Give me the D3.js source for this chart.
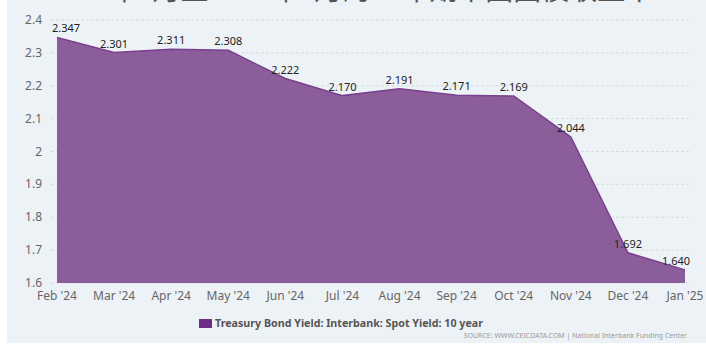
<!DOCTYPE html>
<html>
<head>
<meta charset="utf-8">
<script src="https://cdn.jsdelivr.net/npm/d3@7"></script>
<style>
  html, body { margin: 0; padding: 0; background: #ffffff; }
  svg { display: block; }
</style>
</head>
<body>
<div id="chart"></div>
<script>
    var months = ["Feb '24", "Mar '24", "Apr '24", "May '24", "Jun '24", "Jul '24", "Aug '24", "Sep '24", "Oct '24", "Nov '24", "Dec '24", "Jan '25"];
    var yields = [2.347, 2.301, 2.311, 2.308, 2.222, 2.170, 2.191, 2.171, 2.169, 2.044, 1.692, 1.640];
    var yTicks = [1.6, 1.7, 1.8, 1.9, 2.0, 2.1, 2.2, 2.3, 2.4];
    var seriesName = "Treasury Bond Yield: Interbank: Spot Yield: 10 year";
    var sourceText = "SOURCE: WWW.CEICDATA.COM | National Interbank Funding Center";
    var titleText = "2024年2月至2025年1月的10年期中国国债收益率";

    var width = 706, height = 347,
        margin = { top: 20, right: 21, bottom: 64, left: 57 },
        innerW = width - margin.left - margin.right,
        innerH = height - margin.top - margin.bottom,
        font = "'Noto Sans', 'Open Sans', sans-serif";

    var svg = d3.select("#chart").append("svg")
        .attr("width", width)
        .attr("height", height);

    // panel background
    svg.append("rect")
        .attr("x", 7).attr("y", 0)
        .attr("width", width - 7).attr("height", 343)
        .style("fill", "#edf2f7");

    // title, cut off at the top like in the source image
    svg.append("text")
        .attr("x", 350).attr("y", 0)
        .style("text-anchor", "middle")
        .style("font-family", "'Noto Sans CJK SC', sans-serif")
        .style("font-size", "28px")
        .style("fill", "#555")
        .text(titleText);

    var g = svg.append("g")
        .attr("transform", "translate(" + margin.left + "," + margin.top + ")");

    var x = d3.scalePoint().domain(months).range([0, innerW]);
    var y = d3.scaleLinear().domain([1.6, 2.4]).range([innerH, 0]);

    // grid
    g.selectAll(".grid")
        .data(yTicks)
        .enter().append("line")
        .attr("x1", -6).attr("x2", innerW + 5)
        .attr("y1", function(d) { return y(d); })
        .attr("y2", function(d) { return y(d); })
        .style("stroke", "#d6dbe0")
        .style("stroke-dasharray", "3,2")
        .style("stroke-width", 1);

    var pts = months.map(function(m, i) { return { m: m, v: yields[i] }; });

    var area = d3.area()
        .x(function(d) { return x(d.m); })
        .y0(innerH)
        .y1(function(d) { return y(d.v); });

    g.append("path")
        .datum(pts)
        .attr("d", area)
        .style("fill", "#8b5e9b");

    var line = d3.line()
        .x(function(d) { return x(d.m); })
        .y(function(d) { return y(d.v); });

    g.append("path")
        .datum(pts)
        .attr("d", line)
        .style("fill", "none")
        .style("stroke", "#7a3f8e")
        .style("stroke-width", 1.5);

    // y axis labels
    g.selectAll(".ylab")
        .data(yTicks)
        .enter().append("text")
        .attr("x", -15)
        .attr("y", function(d) { return y(d) + 4; })
        .style("text-anchor", "end")
        .style("font-family", font)
        .style("font-size", "12px")
        .style("fill", "#666")
        .text(function(d) { return d3.format("~g")(d); });

    // x axis labels
    g.selectAll(".xlab")
        .data(months)
        .enter().append("text")
        .attr("x", function(d) { return x(d); })
        .attr("y", innerH + 17)
        .style("text-anchor", "middle")
        .style("font-family", font)
        .style("font-size", "12px")
        .style("fill", "#666")
        .text(function(d) { return d; });

    // value labels, edge ones nudged inward
    g.selectAll(".vlab")
        .data(pts)
        .enter().append("text")
        .attr("x", function(d, i) {
            if (i === 0) return x(d.m) + 9;
            if (i === pts.length - 1) return x(d.m) - 9;
            return x(d.m);
        })
        .attr("y", function(d) { return y(d.v) - 5; })
        .style("text-anchor", "middle")
        .style("font-family", font)
        .style("font-size", "11px")
        .style("fill", "#222")
        .text(function(d) { return d3.format(".3f")(d.v); });

    // legend
    svg.append("rect")
        .attr("x", 199).attr("y", 319)
        .attr("width", 13).attr("height", 9)
        .style("fill", "#6f2c85");

    svg.append("text")
        .attr("x", 215).attr("y", 327)
        .style("font-family", font)
        .style("font-size", "10.7px")
        .style("font-weight", "bold")
        .style("fill", "#555")
        .text(seriesName);

    svg.append("text")
        .attr("x", 687).attr("y", 338)
        .style("text-anchor", "end")
        .style("font-family", font)
        .style("font-size", "7px")
        .style("fill", "#999")
        .text(sourceText);
</script>
</body>
</html>
